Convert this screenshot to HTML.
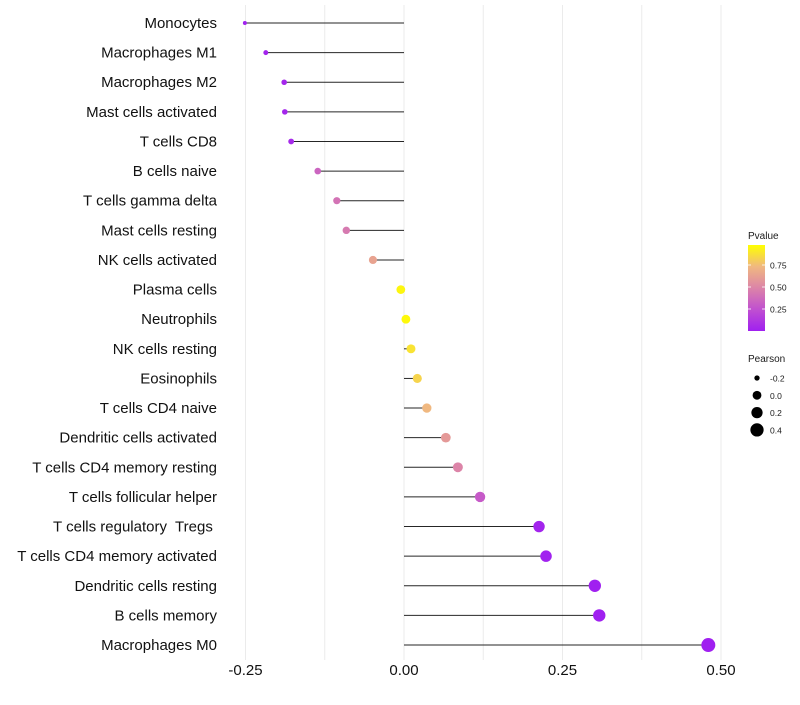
<!DOCTYPE html>
<html><head><meta charset="utf-8"><style>
body{margin:0;background:#fff;font-family:"Liberation Sans",sans-serif}
svg text{font-family:"Liberation Sans",sans-serif;white-space:pre}
</style></head><body>
<svg id="chart" width="800" height="700" viewBox="0 0 800 700" xmlns="http://www.w3.org/2000/svg">
<g id="grid"></g>
<g id="marks"></g>
<g id="ylabels"></g>
<g id="xlabels"></g>
<g id="legend"></g>
</svg>
<script>
const categories=["Monocytes","Macrophages M1","Macrophages M2","Mast cells activated","T cells CD8","B cells naive","T cells gamma delta","Mast cells resting","NK cells activated","Plasma cells","Neutrophils","NK cells resting","Eosinophils","T cells CD4 naive","Dendritic cells activated","T cells CD4 memory resting","T cells follicular helper","T cells regulatory  Tregs ","T cells CD4 memory activated","Dendritic cells resting","B cells memory","Macrophages M0"];
const pearson=[-0.251,-0.218,-0.189,-0.188,-0.178,-0.136,-0.106,-0.091,-0.049,-0.005,0.003,0.011,0.021,0.036,0.066,0.085,0.12,0.213,0.224,0.301,0.308,0.48];
const pvalue=[0.01,0.02,0.03,0.03,0.05,0.35,0.42,0.45,0.65,0.97,0.98,0.9,0.85,0.75,0.6,0.5,0.3,0.02,0.01,0.001,0.001,0.0];
const xTicks=[-0.25,0,0.25,0.5];
const xTickLabels=["-0.25","0.00","0.25","0.50"];
const pTicks=[0.25,0.5,0.75];
const pTickLabels=["0.25","0.50","0.75"];
const sizeTicks=[-0.2,0,0.2,0.4];
const sizeTickLabels=["-0.2","0.0","0.2","0.4"];

const NS="http://www.w3.org/2000/svg";
const x=v=>404+v*634;
const y=i=>23+i*29.62;
const r=v=>Math.sqrt(Math.max(1,19.4+61.6*v));
const stops=[[160,32,240],[192,80,208],[220,132,168],[240,184,128],[255,255,0]];
function col(p){p=Math.max(0,Math.min(1,p));const t=p*4,i=Math.min(3,Math.floor(t)),f=t-i;
 const a=stops[i],b=stops[i+1];return `rgb(${a.map((c,k)=>Math.round(c+(b[k]-c)*f)).join(",")})`;}
function el(tag,attrs,parent){const e=document.createElementNS(NS,tag);for(const k in attrs)e.setAttribute(k,attrs[k]);parent.appendChild(e);return e;}

const grid=document.getElementById('grid');
for(let v=-0.25;v<=0.5001;v+=0.125){
 const g=el('line',{x1:x(v),x2:x(v),y1:5,y2:660,stroke:'#ebebeb','stroke-width':1},grid);
 
 
}
const marks=document.getElementById('marks');
const yl=document.getElementById('ylabels');
categories.forEach((c,i)=>{
 const s=el('line',{x1:x(0),x2:x(pearson[i]),y1:y(i),y2:y(i),stroke:'#000','stroke-width':1,'stroke-opacity':0.85},marks);
 
 
 const p=el('circle',{cx:x(pearson[i]),cy:y(i),r:r(pearson[i]),fill:col(pvalue[i])},marks);
 
 
 const t=el('text',{x:217,y:y(i)+5,'text-anchor':'end','font-size':15,fill:'#111'},yl);
 t.textContent=c;
 
 
});
const xl=document.getElementById('xlabels');
xTicks.forEach((v,i)=>{
 const t=el('text',{x:x(v),y:675,'text-anchor':'middle','font-size':15,fill:'#111'},xl);
 t.textContent=xTickLabels[i];
 
 
});
const lg=document.getElementById('legend');
const defs=el('defs',{},lg);
const grad=el('linearGradient',{id:'pg',x1:0,y1:1,x2:0,y2:0},defs);
stops.forEach((s,i)=>el('stop',{offset:i/4,'stop-color':`rgb(${s.join(',')})`},grad));
const lt=el('text',{x:748,y:239,'font-size':10,fill:'#1a1a1a'},lg);lt.textContent='Pvalue';


const py=p=>331-p*88;
const bar=el('rect',{x:748,y:245,width:17,height:86,fill:'url(#pg)'},lg);


pTicks.forEach((v,i)=>{
 el('line',{x1:748,x2:751,y1:py(v),y2:py(v),stroke:'#fff','stroke-width':0.8},lg);
 el('line',{x1:762,x2:765,y1:py(v),y2:py(v),stroke:'#fff','stroke-width':0.8},lg);
 const t=el('text',{x:770,y:py(v)+3.5,'font-size':8.5,fill:'#1a1a1a'},lg);t.textContent=pTickLabels[i];
 
 
});
const st=el('text',{x:748,y:362,'font-size':10,fill:'#1a1a1a'},lg);st.textContent='Pearson';


sizeTicks.forEach((v,i)=>{
 const cy=378+i*17.3;
 const c=el('circle',{cx:757,cy:cy,r:r(v),fill:'#000'},lg);
 
 
 const t=el('text',{x:770,y:cy+3.5,'font-size':8.5,fill:'#1a1a1a'},lg);t.textContent=sizeTickLabels[i];
 
 
});
</script>
</body></html>
